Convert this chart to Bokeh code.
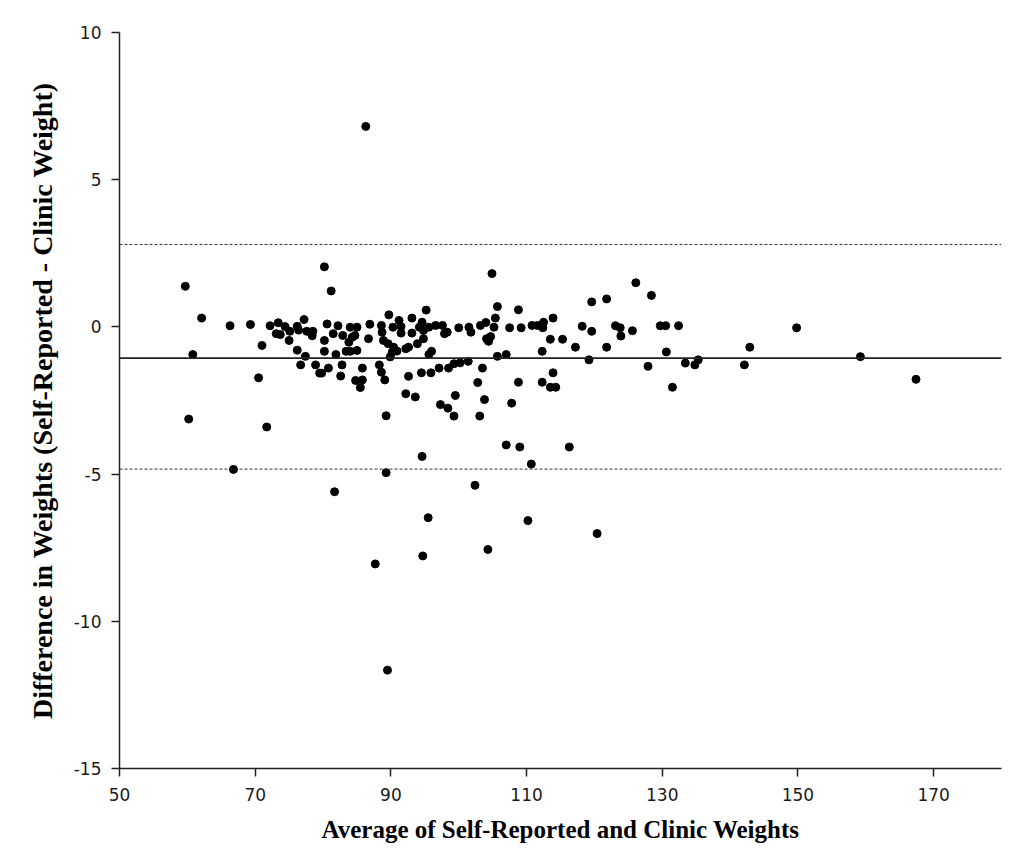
from bokeh.plotting import figure
from bokeh.models import Range1d, FixedTicker, Span, ColumnDataSource, PrintfTickFormatter
from bokeh.embed import file_html
from bokeh.resources import INLINE

# Average of self-reported and clinic weights
avg_weight = [
    59.7, 81.2, 62.1, 66.3, 69.3, 72.2, 73.4, 74.4, 73.1, 73.7, 75.1, 75.0, 76.2, 77.2, 76.4,
    77.6, 78.5, 78.4, 80.6, 80.2, 81.5, 82.2, 82.9, 84.0, 85.0, 84.3, 83.8, 84.7, 86.9, 86.7,
    88.6, 88.7, 88.9, 89.7, 71.0, 60.8, 76.2, 77.4, 76.7, 78.9, 79.5, 79.8, 80.8, 80.2, 81.9,
    82.8, 82.6, 83.4, 84.0, 85.0, 85.8, 84.8, 85.8, 85.5, 88.3, 88.6, 89.1, 70.5, 60.2, 71.7,
    89.3, 89.6, 90.4, 90.2, 89.9, 91.2, 90.3, 91.5, 91.5, 90.9, 92.2, 92.6, 93.1, 93.1, 93.9,
    94.2, 94.6, 95.2, 94.8, 95.6, 94.8, 96.0, 95.6, 96.6, 97.6, 97.9, 98.3, 100.0, 101.5, 101.8,
    103.2, 104.0, 105.2, 105.4, 105.7, 104.1, 104.7, 104.4, 105.7, 107.0, 107.5, 108.8, 109.2,
    110.8, 111.6, 112.4, 112.5, 113.9, 112.3, 113.5, 115.3, 117.2, 118.2, 119.6, 119.6, 119.2,
    92.6, 94.5, 95.9, 97.1, 98.5, 99.3, 100.2, 101.4, 103.5, 102.8, 103.8, 107.8, 108.8, 112.3,
    113.9, 113.5, 114.3, 92.2, 93.6, 97.3, 98.4, 99.5, 99.3, 103.1, 107.0, 109.0, 116.3, 121.8,
    126.1, 128.4, 123.1, 123.8, 123.9, 125.6, 121.8, 129.7, 130.5, 132.4, 130.6, 127.9, 133.4,
    134.8, 135.3, 131.5, 142.1, 142.9, 149.8, 159.2, 167.4, 66.8, 81.7, 89.3, 94.6, 95.5, 87.7,
    94.7, 110.7, 102.4, 110.2, 120.4, 104.3, 86.3, 89.5, 80.2, 104.9,
]
# Difference (self-reported - clinic weight)
diff_weight = [
    1.38, 1.22, 0.30, 0.04, 0.08, 0.04, 0.14, 0.01, -0.23, -0.26, -0.15, -0.46, 0.02, 0.25, -0.11,
    -0.15, -0.15, -0.30, 0.10, -0.46, -0.23, 0.04, -0.29, -0.01, -0.01, -0.35, -0.52, -0.29, 0.09, -0.40,
    0.05, -0.18, -0.46, 0.41, -0.63, -0.94, -0.79, -1.00, -1.29, -1.29, -1.57, -1.57, -1.40, -0.83, -0.94,
    -1.29, -1.67, -0.83, -0.83, -0.80, -1.40, -1.82, -1.80, -2.06, -1.29, -1.54, -1.80, -1.73, -3.13, -3.40,
    -3.02, -0.57, -0.69, -0.86, -1.02, 0.22, -0.01, 0.01, -0.21, -0.82, -0.74, -0.69, 0.30, -0.21, -0.57,
    -0.01, 0.16, 0.57, -0.12, -0.01, -0.40, -0.83, -0.94, 0.05, 0.05, -0.23, -0.18, -0.03, -0.01, -0.18,
    0.05, 0.15, -0.01, 0.30, 0.69, -0.40, -0.33, -0.49, -1.00, -0.94, -0.03, 0.58, -0.03,
    0.05, 0.05, -0.03, 0.16, 0.30, -0.83, -0.42, -0.42, -0.69, 0.02, 0.85, -0.15, -1.12,
    -1.68, -1.56, -1.56, -1.40, -1.40, -1.25, -1.22, -1.17, -1.40, -1.89, -2.47, -2.59, -1.88, -1.88,
    -1.56, -2.05, -2.05, -2.27, -2.38, -2.64, -2.76, -2.33, -3.03, -3.03, -4.01, -4.08, -4.08, 0.95,
    1.50, 1.07, 0.04, -0.03, -0.31, -0.13, -0.69, 0.04, 0.04, 0.04, -0.85, -1.34, -1.23,
    -1.29, -1.12, -2.05, -1.29, -0.69, -0.03, -1.01, -1.78, -4.84, -5.60, -4.95, -4.40, -6.48, -8.05,
    -7.78, -4.66, -5.38, -6.58, -7.02, -7.56, 6.81, -11.66, 2.04, 1.81,
]

mean_diff = -1.06
upper_limit = 2.80
lower_limit = -4.83

x_ticks = [50, 70, 90, 110, 130, 150, 170]
y_ticks = [-15, -10, -5, 0, 5, 10]
x_title = "Average of Self-Reported and Clinic Weights"
y_title = "Difference in Weights (Self-Reported - Clinic Weight)"

p = figure(width=1012, height=855, output_backend="svg", toolbar_location=None,
           x_range=Range1d(50, 180), y_range=Range1d(-15, 10),
           min_border_left=119, min_border_right=11, min_border_top=32, min_border_bottom=87)
p.outline_line_color = None
p.xgrid.visible = False
p.ygrid.visible = False
p.background_fill_color = "white"

src = ColumnDataSource(dict(x=avg_weight, y=diff_weight))
p.scatter("x", "y", source=src, size=8, fill_color="black", line_color="black")

p.add_layout(Span(location=mean_diff, dimension="width", line_color="#222222", line_width=1.6))
p.add_layout(Span(location=upper_limit, dimension="width", line_color="#333333", line_width=1,
                  line_dash="3 2"))
p.add_layout(Span(location=lower_limit, dimension="width", line_color="#333333", line_width=1,
                  line_dash="3 2"))

for ax, ticks, title in ((p.xaxis, x_ticks, x_title), (p.yaxis, y_ticks, y_title)):
    ax.ticker = FixedTicker(ticks=ticks)
    ax.formatter = PrintfTickFormatter(format="%d")
    ax.minor_tick_line_color = None
    ax.major_tick_in = 0
    ax.major_tick_out = 8
    ax.axis_line_color = "#222222"
    ax.axis_line_width = 1.5
    ax.major_tick_line_color = "#222222"
    ax.major_tick_line_width = 1.5
    ax.major_label_text_font = "DejaVu Sans"
    ax.major_label_text_font_size = "17px"
    ax.major_label_text_color = "#1a1a1a"
    ax.axis_label = title
    ax.axis_label_text_font = "Liberation Serif"
    ax.axis_label_text_font_style = "bold"
    ax.axis_label_text_color = "black"

p.xaxis.axis_label_text_font_size = "25px"
p.yaxis.axis_label_text_font_size = "28px"
p.xaxis.major_label_standoff = 11
p.xaxis.axis_label_standoff = 12
p.yaxis.major_label_standoff = 10
p.yaxis.axis_label_standoff = 13

open("out.html", "w").write(file_html(p, INLINE))
